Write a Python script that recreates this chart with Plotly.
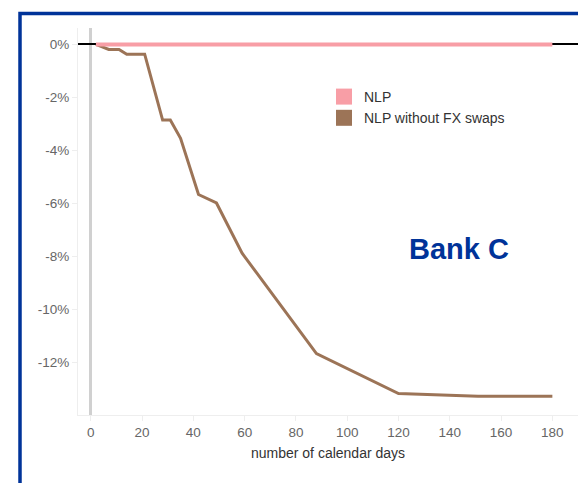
import plotly.graph_objects as go

days_nlp = [2, 180]
nlp = [0.0, 0.0]

days_fx = [2, 7, 11, 14, 21, 28, 31, 35, 42, 49, 59, 88, 120, 151, 180]
nlp_fx = [0.0, -0.19, -0.19, -0.37, -0.37, -2.86, -2.86, -3.55, -5.67, -5.99,
          -7.89, -11.68, -13.19, -13.29, -13.29]

x_ticks = [0, 20, 40, 60, 80, 100, 120, 140, 160, 180]
y_ticks = [0, -2, -4, -6, -8, -10, -12]
y_labels = ["0%", "-2%", "-4%", "-6%", "-8%", "-10%", "-12%"]

PINK = "#F89EA6"
BROWN = "#9C7457"
BLUE = "#003399"

fig = go.Figure()
fig.add_trace(go.Scatter(x=days_fx, y=nlp_fx, mode="lines",
                         line=dict(color=BROWN, width=3), showlegend=False,
                         hoverinfo="skip"))
fig.add_trace(go.Scatter(x=days_nlp, y=nlp, mode="lines",
                         line=dict(color=PINK, width=4), showlegend=False,
                         hoverinfo="skip"))
# legend entries (square swatches)
fig.add_trace(go.Scatter(x=[None], y=[None], mode="markers", name="NLP", legendgroup="a",
                         marker=dict(symbol="square", size=16, color=PINK)))
fig.add_trace(go.Scatter(x=[None], y=[None], mode="markers", name="NLP without FX swaps",
                         legendgroup="b",
                         marker=dict(symbol="square", size=16, color=BROWN)))

W, H = 578, 483
L, R, T = 78, 0, 28
B = H - 415
pw, ph = W - L - R, H - T - B

def px(x):
    return (x - L) / pw

def py(y):
    return (H - B - y) / ph

fig.add_shape(type="rect", xref="paper", yref="paper",
              x0=px(20), x1=px(640), y0=py(13.5), y1=py(560),
              line=dict(color=BLUE, width=3.5), fillcolor="rgba(0,0,0,0)", layer="above")

fig.add_annotation(text="<b>Bank C</b>", xref="paper", yref="paper",
                   x=px(459), y=py(249), showarrow=False,
                   font=dict(size=29, color=BLUE, family="Liberation Sans, Arial"),
                   xanchor="center", yanchor="middle")

fig.update_layout(
    width=W, height=H,
    margin=dict(l=L, r=R, t=T, b=B),
    paper_bgcolor="white", plot_bgcolor="white",
    font=dict(family="Liberation Sans, Arial", size=13.5, color="#666"),
    legend=dict(x=px(324), y=py(81), xanchor="left", yanchor="top",
                font=dict(size=14, color="#333"), bgcolor="rgba(0,0,0,0)",
                tracegroupgap=0, itemwidth=30),
    xaxis=dict(range=[-5, 190], tickvals=x_ticks, showgrid=False,
               zeroline=True, zerolinecolor="#d0d0d0", zerolinewidth=2.5,
               showline=True, linecolor="#eeeeee", linewidth=1,
               ticks="outside", tickcolor="#eeeeee", ticklen=5,
               tickfont=dict(size=13.5, color="#666"),
               title=dict(text="number of calendar days", font=dict(size=14, color="#333"),
                          standoff=8)),
    yaxis=dict(range=[-14, 0.62], tickvals=y_ticks, ticktext=y_labels, showgrid=False,
               zeroline=True, zerolinecolor="black", zerolinewidth=2,
               showline=True, linecolor="#eeeeee", linewidth=1,
               ticks="outside", tickcolor="#eeeeee", ticklen=5,
               tickfont=dict(size=13.5, color="#666")),
)

fig.write_html(
    "out.html",
    config={"displayModeBar": False},
    post_script="document.body.style.margin='0';document.documentElement.style.overflow='hidden';document.body.style.overflow='hidden';",
)
